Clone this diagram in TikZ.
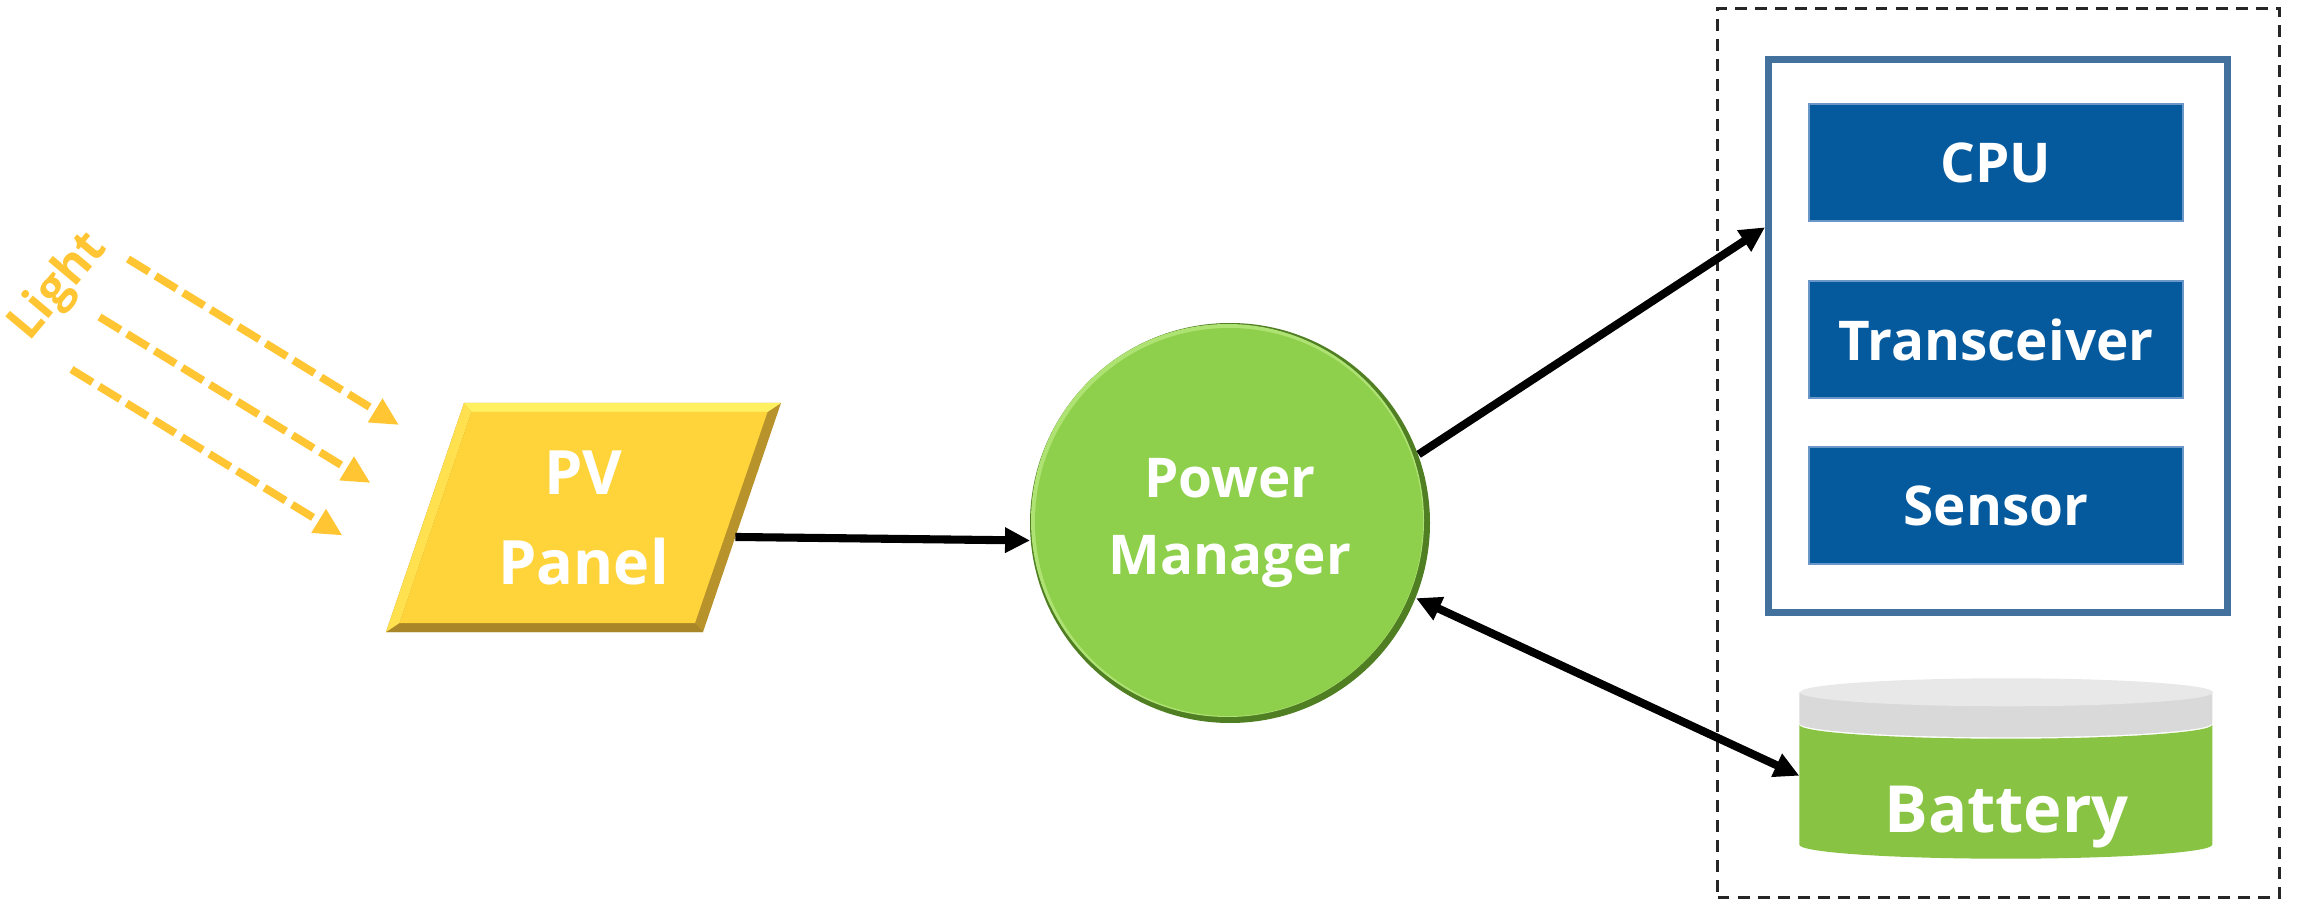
\documentclass[tikz,border=0pt]{standalone}
\usepackage{fontspec}
\setmainfont{Open Sans}
\usepackage{tikz}
\usetikzlibrary{arrows.meta,calc,positioning,shapes.geometric,backgrounds}
\definecolor{sun}{HTML}{FFC533}
\definecolor{pvy}{HTML}{FFD43B}
\definecolor{pvhi}{HTML}{FFF060}
\definecolor{pvside}{HTML}{FFE04E}
\definecolor{pvlo}{HTML}{B8922A}
\definecolor{pvbot}{HTML}{A98628}
\definecolor{pmg}{HTML}{8ED04B}
\definecolor{pmhi}{HTML}{AEE273}
\definecolor{pmlo}{HTML}{4F7F22}
\definecolor{mcub}{HTML}{41719C}
\definecolor{chipb}{HTML}{055A9E}
\definecolor{chipl}{HTML}{6A97C8}
\definecolor{batg}{HTML}{88C343}
\definecolor{battop}{HTML}{E8E8E8}
\definecolor{batband}{HTML}{D9D9D9}

\begin{document}
\begin{tikzpicture}[
    txt/.style={text=white,align=center},
    pvnode/.style={inner sep=0pt,txt,font=\bfseries\fontsize{17.4}{25.6}\selectfont},
    pmnode/.style={circle,minimum size=4cm,inner sep=0pt,txt,font=\bfseries\fontsize{15.6}{21.9}\selectfont},
    chip/.style={rectangle,fill=chipb,draw=chipl,line width=.6pt,minimum width=3.74cm,minimum height=1.17cm,
      inner sep=0pt,txt,font=\bfseries\fontsize{15.6}{18}\selectfont},
    mcu/.style={rectangle,draw=mcub,line width=2pt,minimum width=4.59cm,minimum height=5.53cm},
    frame/.style={rectangle,draw=black!85,line width=.8pt,dash pattern=on 3.4pt off 2.3pt,
      minimum width=5.62cm,minimum height=8.89cm},
    conn/.style={-{Triangle[length=2.5mm,width=2.4mm]},line width=2.3pt,black},
    both/.style={{Triangle[length=2.5mm,width=2.4mm]}-{Triangle[length=2.5mm,width=2.4mm]},line width=2.3pt,black},
    ray/.style={-{Triangle[length=2.8mm,width=2.6mm]},line width=2.2pt,sun,dash pattern=on 7pt off 2.2pt}
  ]
    \useasboundingbox (0,0) rectangle (23,9.03);

    % light
    \node[text=sun,font=\bfseries\fontsize{13.8}{16}\selectfont,rotate=50] (light) at (0.59,6.16) {Light};
    \foreach \i/\dx/\dy in {1/0/0,2/-0.285/-0.58,3/-0.565/-1.105} {
      \coordinate (ra\i) at ($(1.28,6.44)+(\dx,\dy)$);
      \coordinate (rb\i) at ($(3.99,4.78)+(\dx,\dy)$);
      \draw[ray] (ra\i) -- (rb\i);
    }

    % panel
    \node[pvnode] (pv) at (5.835,3.855) {PV\\Panel};
    \coordinate (tl) at ($(pv.center)+(-1.195,1.145)$);
    \coordinate (tr) at ($(pv.center)+(1.975,1.145)$);
    \coordinate (br) at ($(pv.center)+(1.195,-1.145)$);
    \coordinate (bl) at ($(pv.center)+(-1.975,-1.145)$);
    \begin{scope}[on background layer]
      \fill[pvlo] (tl) -- (tr) -- (br) -- (bl) -- cycle;
      \fill[pvbot] (bl) -- (br) -- ($(br)+(-0.08,0.09)$) -- ($(bl)+(0.135,0.09)$) -- cycle;
      \fill[pvside] (tl) -- ($(tl)+(0.075,-0.09)$) -- ($(bl)+(0.135,0.09)$) -- (bl) -- cycle;
      \fill[pvhi] (tl) -- (tr) -- ($(tr)+(-0.135,-0.09)$) -- ($(tl)+(0.075,-0.09)$) -- cycle;
      \fill[pvy] ($(tl)+(0.075,-0.09)$) -- ($(tr)+(-0.135,-0.09)$) -- ($(br)+(-0.08,0.09)$) -- ($(bl)+(0.135,0.09)$) -- cycle;
    \end{scope}

    % manager
    \node[pmnode] (pm) at (12.30,3.80) {Power\\Manager};
    \begin{scope}[on background layer]
      \fill[pmlo] (pm.center) circle (2cm);
      \fill[pmhi] ($(pm.center)+(-0.025,0.025)$) circle (1.965cm);
      \fill[pmg] ($(pm.center)+(-0.01,0.01)$) circle (1.94cm);
    \end{scope}

    % node
    \node[frame] (dev) at (19.985,4.50) {};
    \node[mcu] (mcu) at (19.98,5.67) {};
    \node[chip] (cpu) at (19.96,7.405) {CPU};
    \node[chip,below=0.58cm of cpu] (trx) {Transceiver};
    \node[chip,below=0.47cm of trx] (sens) {Sensor};

    % battery
    \node[minimum width=4.13cm,minimum height=1.79cm,inner sep=0pt] (bat) at (20.065,1.345) {};
    \fill[batg] ($(bat.south west)+(0,0.14)$) arc[start angle=180,end angle=360,x radius=2.065cm,y radius=0.14cm]
      -- ++(0,1.20) arc[start angle=0,end angle=-180,x radius=2.065cm,y radius=0.14cm] -- cycle;
    \fill[batband] ($(bat.north west)+(0,-0.14)$) -- ++(0,-0.31) arc[start angle=180,end angle=360,x radius=2.065cm,y radius=0.14cm]
      -- ++(0,0.31) -- cycle;
    \fill[battop] ($(bat.north)+(0,-0.14)$) ellipse[x radius=2.065cm,y radius=0.14cm];
    \node[txt,font=\bfseries\fontsize{18.5}{22}\selectfont] (battxt) at ($(bat.center)+(0,-0.49)$) {Battery};

    % links
    \coordinate (pvout) at ($(tr)!0.585!(br)$);
    \draw[conn] (pvout) -- (pm.185);
    \draw[conn] (pm.20.7) -- (mcu.155.3);
    \draw[both] (pm.-22.3) -- (bat.182.5);
\end{tikzpicture}
\end{document}
